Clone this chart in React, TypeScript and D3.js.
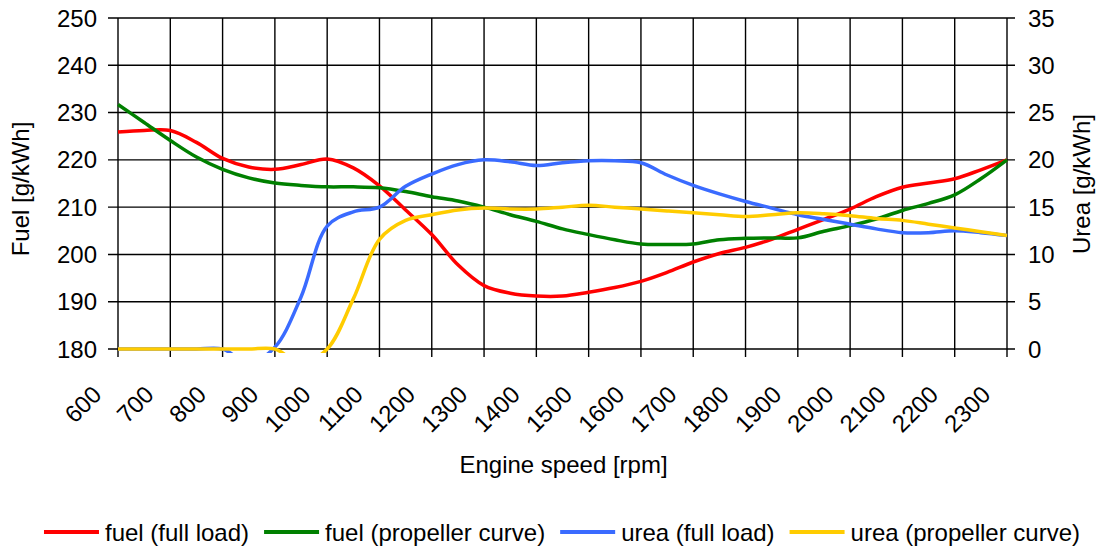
import { useEffect, useRef } from 'react';
import * as d3 from 'd3';

// Engine speed [rpm]
const rpm = [
    600, 650, 700, 750, 800, 850, 900, 950, 1000, 1050, 1100, 1150, 1200, 1250, 1300, 1350, 1400, 1450,
    1500, 1550, 1600, 1650, 1700, 1750, 1800, 1850, 1900, 1950, 2000, 2050, 2100, 2150, 2200, 2250, 2300
];

// Fuel [g/kWh] (left axis)
const fuelFullLoad = [
    225.9, 226.2, 226.2, 223.7, 220.3, 218.5, 218.0, 219.0, 220.2, 218.3, 214.5, 209.4, 204.2, 197.8, 193.4, 191.8, 191.2, 191.2,
    192.0, 193.0, 194.3, 196.2, 198.4, 200.2, 201.5, 203.2, 205.3, 207.4, 209.6, 212.2, 214.2, 215.1, 216.0, 217.9, 220.0
];
const fuelPropeller = [
    231.7, 227.9, 224.1, 220.6, 218.0, 216.2, 215.1, 214.6, 214.3, 214.3, 214.1, 213.3, 212.2, 211.3, 210.0, 208.4, 207.0, 205.4,
    204.2, 203.1, 202.2, 202.1, 202.2, 203.1, 203.4, 203.5, 203.5, 204.9, 206.1, 207.5, 209.3, 210.8, 212.6, 216.0, 220.0
];

// Urea [g/kWh] (right axis)
const ureaFullLoad = [
    0, 0, 0, 0, 0, -1.5, 0.2, 5.5, 13.0, 14.5, 15.0, 17.2, 18.5, 19.5, 20.0, 19.8, 19.4, 19.7,
    19.9, 19.9, 19.7, 18.4, 17.3, 16.4, 15.6, 14.9, 14.2, 13.7, 13.2, 12.7, 12.3, 12.3, 12.5, 12.3, 12.0
];
const ureaPropeller = [
    0, 0, 0, 0, 0, 0, 0, -1.5, 0, 5.3, 11.6, 13.6, 14.2, 14.7, 14.9, 14.8, 14.8, 15.0,
    15.2, 15.0, 14.8, 14.6, 14.4, 14.2, 14.0, 14.2, 14.4, 14.3, 14.1, 13.8, 13.6, 13.2, 12.8, 12.4, 12.0
];

const fuelTicks = [180, 190, 200, 210, 220, 230, 240, 250];
const ureaTicks = [0, 5, 10, 15, 20, 25, 30, 35];
const rpmTicks = [600, 700, 800, 900, 1000, 1100, 1200, 1300, 1400, 1500, 1600, 1700, 1800, 1900, 2000, 2100, 2200, 2300];

const seriesNames = ['fuel (full load)', 'fuel (propeller curve)', 'urea (full load)', 'urea (propeller curve)'];
const seriesColors = ['#ff0000', '#008000', '#3a6bff', '#ffcc00'];

const FONT = '"Liberation Sans", Arial, sans-serif';

const App = () => {
    const svgRef = useRef<SVGSVGElement | null>(null);

    useEffect(() => {
        if (!svgRef.current) return;

        d3.select(svgRef.current).selectAll('*').remove();

        const W = 1097;
        const H = 546;
        const margin = { top: 18, right: 90, bottom: 197, left: 118 };
        const width = W - margin.left - margin.right;
        const height = H - margin.top - margin.bottom;

        const root = d3.select(svgRef.current)
            .attr('width', W)
            .attr('height', H)
            .style('font-family', FONT);

        const svg = root.append('g')
            .attr('transform', `translate(${margin.left},${margin.top})`);

        // Scales
        const x = d3.scaleLinear().domain([600, 2300]).range([0, width]);
        const yFuel = d3.scaleLinear().domain([180, 250]).range([height, 0]);
        const yUrea = d3.scaleLinear().domain([0, 35]).range([height, 0]);

        // Grid + tick marks (gridlines run out past the axes as ticks)
        svg.selectAll('.hgrid')
            .data(fuelTicks)
            .enter()
            .append('line')
            .attr('x1', -10)
            .attr('x2', width + 8)
            .attr('y1', d => yFuel(d))
            .attr('y2', d => yFuel(d))
            .attr('stroke', '#000')
            .attr('stroke-width', 1.4);

        svg.selectAll('.vgrid')
            .data(rpmTicks)
            .enter()
            .append('line')
            .attr('x1', d => x(d))
            .attr('x2', d => x(d))
            .attr('y1', 0)
            .attr('y2', height + 8)
            .attr('stroke', '#000')
            .attr('stroke-width', 1.4);

        // Left tick labels
        svg.selectAll('.ylab')
            .data(fuelTicks)
            .enter()
            .append('text')
            .attr('x', -21)
            .attr('y', d => yFuel(d))
            .attr('dy', '0.36em')
            .attr('text-anchor', 'end')
            .attr('font-size', '24px')
            .attr('fill', '#000')
            .text(d => d);

        // Right tick labels
        svg.selectAll('.y2lab')
            .data(ureaTicks)
            .enter()
            .append('text')
            .attr('x', width + 21)
            .attr('y', d => yUrea(d))
            .attr('dy', '0.36em')
            .attr('text-anchor', 'start')
            .attr('font-size', '24px')
            .attr('fill', '#000')
            .text(d => d);

        // Rotated x tick labels
        svg.selectAll('.xlab')
            .data(rpmTicks)
            .enter()
            .append('text')
            .attr('transform', d => `translate(${x(d) - 15},${height + 47}) rotate(-45)`)
            .attr('text-anchor', 'end')
            .attr('font-size', '24px')
            .attr('fill', '#000')
            .text(d => d);

        // Axis titles
        svg.append('text')
            .attr('x', width / 2 + 1)
            .attr('y', height + 124)
            .attr('text-anchor', 'middle')
            .attr('font-size', '24px')
            .text('Engine speed [rpm]');

        root.append('text')
            .attr('transform', `translate(29,189) rotate(-90)`)
            .attr('text-anchor', 'middle')
            .attr('font-size', '24px')
            .text('Fuel [g/kWh]');

        root.append('text')
            .attr('transform', `translate(1090,184) rotate(-90)`)
            .attr('text-anchor', 'middle')
            .attr('font-size', '24px')
            .text('Urea [g/kWh]');

        // Clip (values below zero run slightly under the axis and get cut)
        root.append('defs')
            .append('clipPath')
            .attr('id', 'plot-clip')
            .append('rect')
            .attr('x', -6)
            .attr('y', -6)
            .attr('width', width + 12)
            .attr('height', height + 10);

        const fuelLine = d3.line<number>()
            .x((_, i) => x(rpm[i]))
            .y(d => yFuel(d))
            .curve(d3.curveCatmullRom.alpha(0.5));

        const ureaLine = d3.line<number>()
            .x((_, i) => x(rpm[i]))
            .y(d => yUrea(d))
            .curve(d3.curveCatmullRom.alpha(0.5));

        const series = [
            { values: fuelFullLoad, gen: fuelLine },
            { values: fuelPropeller, gen: fuelLine },
            { values: ureaFullLoad, gen: ureaLine },
            { values: ureaPropeller, gen: ureaLine }
        ];

        const lines = svg.append('g').attr('clip-path', 'url(#plot-clip)');
        series.forEach((s, i) => {
            lines.append('path')
                .attr('d', s.gen(s.values))
                .attr('fill', 'none')
                .attr('stroke', seriesColors[i])
                .attr('stroke-width', 3.5)
                .attr('stroke-linejoin', 'round');
        });

        // Legend
        const legend = root.append('g');
        const lineLen = 55;
        const gapText = 6;
        const gapItem = 15;
        let cursor = 0;
        seriesNames.forEach((name, i) => {
            const item = legend.append('g').attr('transform', `translate(${cursor},0)`);
            item.append('line')
                .attr('x1', 0)
                .attr('x2', lineLen)
                .attr('y1', 0)
                .attr('y2', 0)
                .attr('stroke', seriesColors[i])
                .attr('stroke-width', 4);
            const t = item.append('text')
                .attr('x', lineLen + gapText)
                .attr('y', 0)
                .attr('dy', '0.36em')
                .attr('font-size', '24px')
                .text(name);
            const w = (t.node() as SVGTextElement).getComputedTextLength();
            cursor += lineLen + gapText + w + gapItem;
        });
        const total = cursor - gapItem;
        legend.attr('transform', `translate(${562 - total / 2},532)`);
    }, []);

    return (
        <div style={{ position: 'absolute', left: 0, top: 0 }}>
            <svg ref={svgRef} style={{ display: 'block' }}></svg>
        </div>
    );
};

export default App;
